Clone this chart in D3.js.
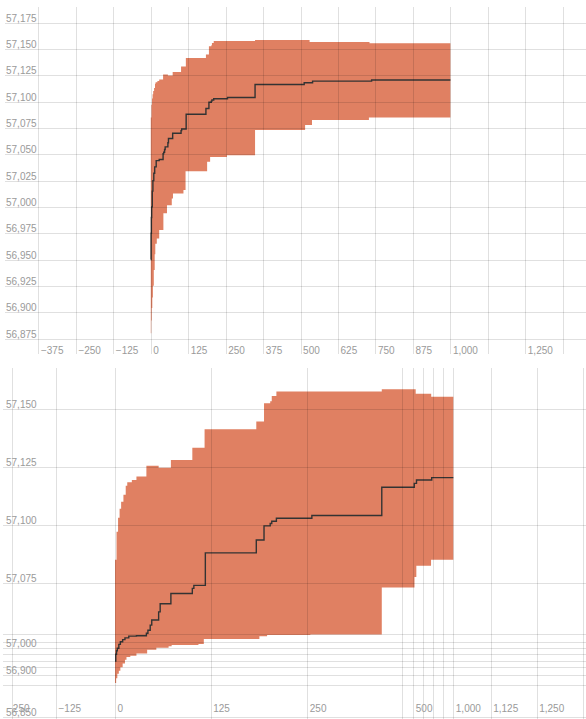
<!DOCTYPE html>
<html><head><meta charset="utf-8">
<script src="https://cdn.jsdelivr.net/npm/d3@7"></script>
<style>
html,body{margin:0;padding:0;background:#fff;}
svg{display:block;}
text{font-family:"Liberation Sans",Arial,sans-serif;font-size:10px;fill:#9a9a9a;}
</style></head>
<body>
<svg id="chart" width="586" height="719"></svg>
<script>
// ---- data (step-after series: [x, value]) ----
const xEnd = 1000;
const meanSteps = [[0,56950],[1,56975],[2,56990],[3,57000],[5,57015],[7,57025],[10,57032],[13,57038],[18,57044],[28,57045],[41,57050.5],[43,57052],[46,57054.5],[48,57057],[57,57061],[59,57065],[73,57070],[101,57072.5],[103,57074],[118,57088],[184,57093.5],[194,57099.5],[202,57100.5],[204,57101.5],[210,57102.8],[256,57104],[348,57116.3],[512,57118],[540,57119.5],[737,57120.5]];
const lowerSteps = [[0,56880],[1.5,56892],[3,56904],[5,56914],[7,56925],[10,56940],[13,56955],[15,56965],[20,56970],[28,56978],[42,56994],[54,57001.7],[70,57008],[74,57012.8],[109,57016],[116,57034],[188,57043],[198,57047.5],[254,57049],[348,57073],[515,57077.7],[538,57082.5],[728,57085]];
const upperSteps = [[0,57085],[2,57097],[4,57103],[6,57107],[8,57110],[11,57113],[14,57117],[16,57118.5],[22,57119.5],[28,57121],[41,57125.7],[57,57124.8],[73,57128.1],[101,57133.4],[117,57141.4],[184,57144.7],[194,57152.6],[202,57153.5],[204,57155.7],[210,57157.6],[348,57158.6],[530,57156.7],[730,57155.4]];

const xTicks = [-375,-250,-125,0,125,250,375,500,625,750,875,1000,1125,1250,1375];
const yTicks = [56850,56875,56900,56925,56950,56975,57000,57025,57050,57075,57100,57125,57150,57175];
const topXLabels = [-375,-250,-125,0,125,250,375,500,625,750,875,1000,1250];
const topYLabels = [56875,56900,56925,56950,56975,57000,57025,57050,57075,57100,57125,57150,57175];
const botXLabels = [-250,-125,0,125,250,500,1000,1125,1250,1375];
const botYLabels = [56850,56900,57000,57075,57100,57125,57150];

// ---- helpers ----
function stepVal(steps, x){ let v = steps[0][1]; for (const s of steps){ if (s[0] <= x) v = s[1]; else break; } return v; }
const allX = Array.from(new Set([...lowerSteps, ...upperSteps].map(d=>d[0]).concat([xEnd]))).sort((a,b)=>a-b);
const band = allX.map(x => ({x, lo: stepVal(lowerSteps,x), hi: stepVal(upperSteps,x)}));
const meanPts = meanSteps.concat([[xEnd, meanSteps[meanSteps.length-1][1]]]);
const fmt = d3.format(",");

const svg = d3.select("#chart");

function panel(cfg){
  const g = svg.append("g");
  const {x, y} = cfg;
  // band
  g.append("path").datum(band)
    .attr("fill","rgb(224,128,98)")
    .attr("d", d3.area().curve(d3.curveStepAfter).x(d=>x(d.x)).y0(d=>y(d.lo)).y1(d=>y(d.hi)));
  // mean line
  g.append("path").datum(meanPts)
    .attr("fill","none").attr("stroke","#333").attr("stroke-width",1.4)
    .attr("d", d3.line().curve(d3.curveStepAfter).x(d=>x(d[0])).y(d=>y(d[1])));
  // grid
  const grid = g.append("g").attr("stroke","rgba(0,0,0,0.12)").attr("stroke-width",1);
  grid.selectAll("line.v").data(cfg.xTicks).join("line")
    .attr("x1",d=>Math.round(x(d))+0.5).attr("x2",d=>Math.round(x(d))+0.5)
    .attr("y1",cfg.vTop).attr("y2",cfg.vBottom);
  grid.selectAll("line.h").data(cfg.yTicks).join("line")
    .attr("y1",d=>Math.round(y(d))+0.5).attr("y2",d=>Math.round(y(d))+0.5)
    .attr("x1",cfg.hLeft).attr("x2",586);
  // labels
  g.selectAll("text.x").data(cfg.xLabels).join("text")
    .attr("x",(d,i)=> i===0 ? Math.min(x(d)+2.5, cfg.firstLabelX) : x(d)+2.5)
    .attr("y",cfg.xLabelY).text(d=>fmt(d));
  g.selectAll("text.y").data(cfg.yLabels).join("text")
    .attr("x",6).attr("y",d=>y(d)-1).text(d=>fmt(d));
}

// top panel: linear scales
const xTop = d3.scaleLinear().domain([0,1250]).range([150.8, 150.8 + 1250*0.2996]);
const yTop = d3.scaleLinear().domain([56875,57175]).range([338.5,22.7]);
panel({x:xTop, y:yTop, xTicks:xTicks, yTicks:yTicks.filter(d=>d>=56875),
  xLabels:topXLabels, yLabels:topYLabels, vTop:7, vBottom:354, hLeft:5, xLabelY:354, firstLabelX:100});

// bottom panel: warped (piecewise) scales
const xBot = d3.scaleLinear()
  .domain([-250,-125,0,125,250,375,500,625,750,875,1000,1125,1250,1375])
  .range([11.5,56,115,210.7,307.3,402.3,413.3,423.3,432.7,442.7,453.3,490.7,536.7,583.3]);
const yBot = d3.scaleLinear()
  .domain([56850,56875,56900,56925,56950,56975,57000,57025,57050,57075,57100,57125,57150,57175])
  .range([717,685,675,667.3,661,654.3,648.3,641.7,634.3,583.3,524.7,467.3,409.3,351]);
panel({x:xBot, y:yBot, xTicks:xTicks.filter(d=>d>=-250), yTicks:yTicks.filter(d=>d<57175),
  xLabels:botXLabels, yLabels:botYLabels, vTop:368, vBottom:719, hLeft:3, xLabelY:712, firstLabelX:7});
</script>
</body></html>
